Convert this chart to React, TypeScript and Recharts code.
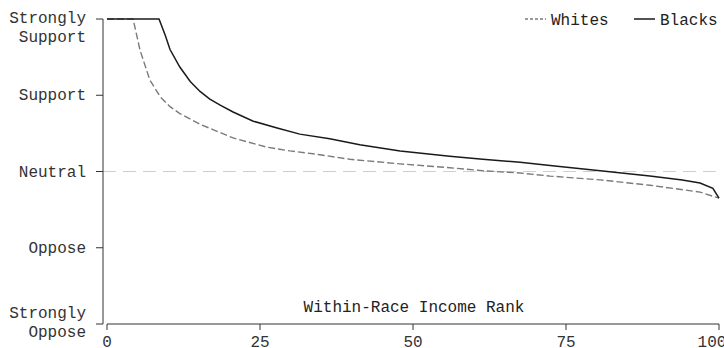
import React from "react";
import { LineChart, Line, XAxis, YAxis, ReferenceLine, Legend } from "recharts";

const whitesRank = [0, 4.25, 4.4, 5.4, 7, 8.7, 10.3, 11.9, 15.2, 20.6, 26.1, 29.9, 34.8, 39.7, 47.9, 56, 61.4, 67.5, 72.4, 80.6, 88.7, 96.9, 100];
const whitesScore = [5, 5, 4.95, 4.59, 4.2, 3.98, 3.85, 3.76, 3.62, 3.44, 3.32, 3.27, 3.22, 3.16, 3.1, 3.05, 3.01, 2.98, 2.94, 2.89, 2.82, 2.73, 2.65];

const blacksRank = [0, 8.5, 9.5, 10.3, 11.9, 13.6, 15.2, 16.8, 18.5, 20.6, 23.9, 27.8, 31.5, 36.4, 41.3, 47.9, 56, 61.4, 67.5, 72.4, 80.6, 88.7, 94, 96.9, 99, 100];
const blacksScore = [5, 5, 4.79, 4.6, 4.37, 4.18, 4.05, 3.95, 3.87, 3.78, 3.66, 3.57, 3.49, 3.43, 3.35, 3.27, 3.2, 3.16, 3.12, 3.08, 3.01, 2.94, 2.89, 2.85, 2.78, 2.65];

const xTicks = [0, 25, 50, 75, 100];
const yTicks = [1, 2, 3, 4, 5];
const yTickLabels: Record<number, string[]> = {
  1: ["Strongly", "Oppose"],
  2: ["Oppose"],
  3: ["Neutral"],
  4: ["Support"],
  5: ["Strongly", "Support"],
};
const seriesNames = ["Whites", "Blacks"];

const whitesData = whitesRank.map((x, i) => ({ x, y: whitesScore[i] }));
const blacksData = blacksRank.map((x, i) => ({ x, y: blacksScore[i] }));

const FONT = "'Liberation Mono', 'DejaVu Sans Mono', monospace";
const AXIS = "#333";

const YTick = (props: any) => {
  const { x, y, payload } = props;
  const lines = yTickLabels[payload.value] || [String(payload.value)];
  let first: number;
  if (lines.length === 1) first = y + 5;
  else if (payload.value === 5) first = y + 4;
  else first = y - 6;
  return (
    <g>
      {lines.map((l, i) => (
        <text
          key={i}
          x={x}
          y={first + i * 19}
          textAnchor="end"
          fontFamily={FONT}
          fontSize={16}
          fill="#333"
        >
          {l}
        </text>
      ))}
    </g>
  );
};

const renderLegend = () => (
  <svg width={200} height={24}>
    <line x1={5} y1={11} x2={26} y2={11} stroke="#7a7a7a" strokeWidth={1.5} strokeDasharray="3 2" />
    <text x={31} y={17} fontFamily={FONT} fontSize={16} fill="#222">{seriesNames[0]}</text>
    <line x1={114} y1={11} x2={135} y2={11} stroke="#1a1a1a" strokeWidth={1.5} />
    <text x={140} y={17} fontFamily={FONT} fontSize={16} fill="#222">{seriesNames[1]}</text>
  </svg>
);

export default function App() {
  return (
    <div style={{ position: "absolute", left: 0, top: 0, background: "#fff" }}>
      <LineChart
        width={724}
        height={348}
        margin={{ top: 19, right: 5, bottom: 0, left: 0 }}
      >
        <XAxis
          type="number"
          dataKey="x"
          domain={[0, 100]}
          ticks={xTicks}
          padding={{ left: 4, right: 0 }}
          height={24}
          tickSize={6}
          tickMargin={6}
          stroke={AXIS}
          axisLine={{ stroke: AXIS, strokeDasharray: "0 4 10000" }}
          tick={{ fontFamily: FONT, fontSize: 16, fill: "#333" }}
          label={{
            value: "Within-Race Income Rank",
            position: "top",
            offset: 12,
            dx: 3,
            fontFamily: FONT,
            fontSize: 16,
            fill: "#222",
          }}
        />
        <YAxis
          type="number"
          dataKey="y"
          domain={[1, 5]}
          ticks={yTicks}
          width={103}
          tickSize={7}
          tickMargin={10}
          stroke={AXIS}
          tick={<YTick />}
          interval={0}
        />
        <ReferenceLine y={3} stroke="#cfcfcf" strokeDasharray="13 7" strokeWidth={1.2} />
        <Legend
          content={renderLegend}
          layout="horizontal"
          verticalAlign="middle"
          align="center"
          wrapperStyle={{ top: 8, left: 520, width: 200, height: 24 }}
        />
        <Line
          data={whitesData}
          dataKey="y"
          name={seriesNames[0]}
          type="linear"
          stroke="#7a7a7a"
          strokeWidth={1.4}
          strokeDasharray="7 3"
          dot={false}
          isAnimationActive={false}
        />
        <Line
          data={blacksData}
          dataKey="y"
          name={seriesNames[1]}
          type="linear"
          stroke="#1a1a1a"
          strokeWidth={1.5}
          dot={false}
          isAnimationActive={false}
        />
      </LineChart>
    </div>
  );
}
